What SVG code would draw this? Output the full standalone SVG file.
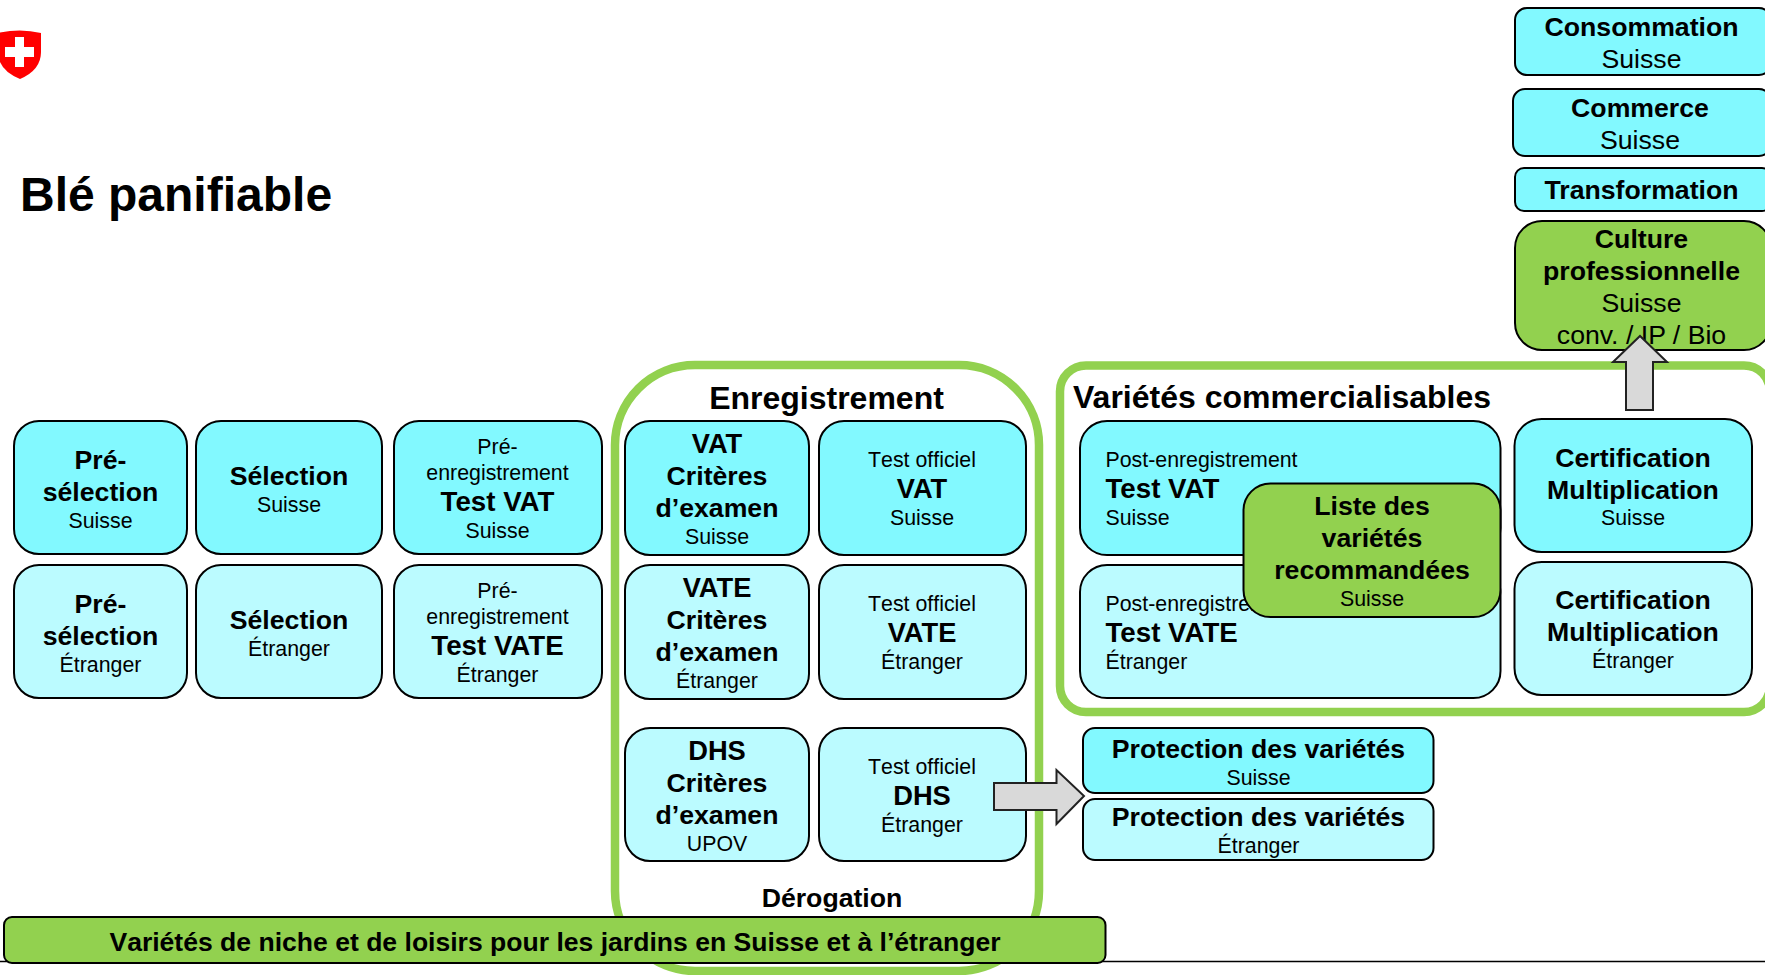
<svg xmlns="http://www.w3.org/2000/svg" width="1765" height="975" viewBox="0 0 1765 975">
<style>
text{font-family:"Liberation Sans",Arial,sans-serif;fill:#000;text-anchor:middle}
.b{font-weight:700;font-size:26.67px}
.t{font-weight:700;font-size:27.7px}
.v{font-weight:700;font-size:27.3px}
.r{font-size:21.33px;font-kerning:none}
.l{font-size:26.67px}
.h{font-weight:700;font-size:32px}
.s{text-anchor:start}
.n{stroke:#000;stroke-width:2}
.c{fill:#82f9ff}
.p{fill:#bbfbff}
.g{fill:#92d14f}
.f{fill:none;stroke:#92d14f;stroke-width:8.5}
.a{fill:#d9d9d9;stroke:#222;stroke-width:2}
</style>
<rect width="1765" height="975" fill="#fff"/>
<g id="logo">
<path d="M-2 33Q20 28 41 33L41 52Q41 70 20 79Q-2 70-2 52Z" fill="#ff0000"/>
<path d="M15 37H24V47H34V57H24V67H15V57H5V47H15Z" fill="#fff"/>
</g>
<text id="title" x="20" y="211" font-size="48" font-weight="700" style="text-anchor:start;font-kerning:none">Blé panifiable</text>

<g id="frame-enregistrement">
<rect class="f" x="615" y="365" width="424" height="606" rx="80"/>
<text class="h" x="826.5" y="409">Enregistrement</text>
<text class="b" x="832" y="907">Dérogation</text>
</g>
<g id="frame-varietes">
<rect class="f" x="1060" y="365.5" width="710" height="346.5" rx="26"/>
<text class="h s" x="1073" y="408">Variétés commercialisables</text>
</g>
<line id="baseline" x1="0" y1="961.500" x2="1765" y2="961.500" stroke="#000" stroke-width="1.5"/>

<g id="n-preselection-ch"><rect class="n c" x="14" y="421" width="173" height="133" rx="25"/>
<text class="b" x="100.5" y="469">Pré-</text><text class="b" x="100.5" y="501">sélection</text><text class="r" x="100.5" y="528">Suisse</text></g>
<g id="n-preselection-et"><rect class="n p" x="14" y="565" width="173" height="133" rx="25"/>
<text class="b" x="100.5" y="613">Pré-</text><text class="b" x="100.5" y="645">sélection</text><text class="r" x="100.5" y="672">Étranger</text></g>
<g id="n-selection-ch"><rect class="n c" x="196" y="421" width="186" height="133" rx="25"/>
<text class="b" x="289" y="485">Sélection</text><text class="r" x="289" y="512">Suisse</text></g>
<g id="n-selection-et"><rect class="n p" x="196" y="565" width="186" height="133" rx="25"/>
<text class="b" x="289" y="629">Sélection</text><text class="r" x="289" y="656">Étranger</text></g>
<g id="n-pre-vat"><rect class="n c" x="394" y="421" width="208" height="133" rx="25"/>
<text class="r" x="497.5" y="453.5">Pré-</text><text class="r" x="497.5" y="480">enregistrement</text><text class="t" x="497.5" y="511">Test VAT</text><text class="r" x="497.5" y="538">Suisse</text></g>
<g id="n-pre-vate"><rect class="n p" x="394" y="565" width="208" height="133" rx="25"/>
<text class="r" x="497.5" y="597.5">Pré-</text><text class="r" x="497.5" y="624">enregistrement</text><text class="t" x="497.5" y="655">Test VATE</text><text class="r" x="497.5" y="682">Étranger</text></g>

<g id="n-vat-criteres"><rect class="n c" x="625" y="421" width="184" height="134" rx="25"/>
<text class="v" x="717" y="453">VAT</text><text class="b" x="717" y="485">Critères</text><text class="b" x="717" y="517">d’examen</text><text class="r" x="717" y="544">Suisse</text></g>
<g id="n-vat-test"><rect class="n c" x="819" y="421" width="207" height="134" rx="25"/>
<text class="r" x="922" y="466.5">Test officiel</text><text class="v" x="922" y="497.5">VAT</text><text class="r" x="922" y="525">Suisse</text></g>
<g id="n-vate-criteres"><rect class="n p" x="625" y="565" width="184" height="134" rx="25"/>
<text class="v" x="717" y="597">VATE</text><text class="b" x="717" y="629">Critères</text><text class="b" x="717" y="661">d’examen</text><text class="r" x="717" y="688">Étranger</text></g>
<g id="n-vate-test"><rect class="n p" x="819" y="565" width="207" height="134" rx="25"/>
<text class="r" x="922" y="610.5">Test officiel</text><text class="v" x="922" y="641.5">VATE</text><text class="r" x="922" y="669">Étranger</text></g>
<g id="n-dhs-criteres"><rect class="n p" x="625" y="728" width="184" height="133" rx="25"/>
<text class="v" x="717" y="760">DHS</text><text class="b" x="717" y="792">Critères</text><text class="b" x="717" y="824">d’examen</text><text class="r" x="717" y="851">UPOV</text></g>
<g id="n-dhs-test"><rect class="n p" x="819" y="728" width="207" height="133" rx="25"/>
<text class="r" x="922" y="773.5">Test officiel</text><text class="v" x="922" y="805">DHS</text><text class="r" x="922" y="832">Étranger</text></g>

<g id="n-post-vat"><rect class="n c" x="1080" y="421" width="420.500" height="134" rx="27"/>
<text class="r s" x="1105.500" y="467">Post-enregistrement</text><text class="t s" x="1105.500" y="498">Test VAT</text><text class="r s" x="1105.500" y="525">Suisse</text></g>
<g id="n-post-vate"><rect class="n p" x="1080" y="565" width="420.500" height="133" rx="27"/>
<text class="r s" x="1105.500" y="611">Post-enregistrement</text><text class="t s" x="1105.500" y="642">Test VATE</text><text class="r s" x="1105.500" y="669">Étranger</text></g>
<g id="n-cert-ch"><rect class="n c" x="1514.500" y="419" width="237.500" height="133" rx="27"/>
<text class="b" x="1633" y="467">Certification</text><text class="b" x="1633" y="499">Multiplication</text><text class="r" x="1633" y="524.500">Suisse</text></g>
<g id="n-cert-et"><rect class="n p" x="1514.500" y="562" width="237.500" height="133" rx="27"/>
<text class="b" x="1633" y="609">Certification</text><text class="b" x="1633" y="641">Multiplication</text><text class="r" x="1633" y="667.500">Étranger</text></g>
<g id="n-liste"><rect class="n g" x="1243.500" y="483.500" width="257" height="133.500" rx="27"/>
<text class="b" x="1372" y="515">Liste des</text><text class="b" x="1372" y="547">variétés</text><text class="b" x="1372" y="579">recommandées</text><text class="r" x="1372" y="605.500">Suisse</text></g>

<g id="n-protection-ch"><rect class="n c" x="1083" y="728" width="350.500" height="65" rx="12"/>
<text class="b" x="1258.500" y="758">Protection des variétés</text><text class="r" x="1258.500" y="784.500">Suisse</text></g>
<g id="n-protection-et"><rect class="n p" x="1083" y="799" width="350.500" height="61" rx="12"/>
<text class="b" x="1258.500" y="826">Protection des variétés</text><text class="r" x="1258.500" y="853">Étranger</text></g>

<g id="n-consommation"><rect class="n c" x="1515" y="8" width="256" height="67" rx="12"/>
<text class="b" x="1641.500" y="36">Consommation</text><text class="l" x="1641.500" y="68">Suisse</text></g>
<g id="n-commerce"><rect class="n c" x="1513" y="89" width="258" height="67" rx="12"/>
<text class="b" x="1640" y="117">Commerce</text><text class="l" x="1640" y="149">Suisse</text></g>
<g id="n-transformation"><rect class="n c" x="1515" y="168" width="256" height="43" rx="9"/>
<text class="b" x="1641.500" y="199">Transformation</text></g>
<g id="n-culture"><rect class="n g" x="1515" y="221" width="256" height="129" rx="27"/>
<text class="b" x="1641.500" y="248">Culture</text><text class="b" x="1641.500" y="279.500">professionnelle</text><text class="l" x="1641.500" y="312">Suisse</text><text class="l" x="1641.500" y="344">conv. / IP / Bio</text></g>

<g id="n-niche"><rect class="n g" x="4" y="917" width="1101.500" height="46" rx="8"/>
<text class="b" x="555" y="950.500" style="font-size:26.55px;font-kerning:none">Variétés de niche et de loisirs pour les jardins en Suisse et à l’étranger</text></g>

<g id="connectors">
<path class="a" d="M994 783H1056.500V770L1084 796L1056.500 824V810H994Z"/>
<path class="a" d="M1626 410V362H1613L1640 336L1667 362H1653V410Z"/>
</g>
</svg>
